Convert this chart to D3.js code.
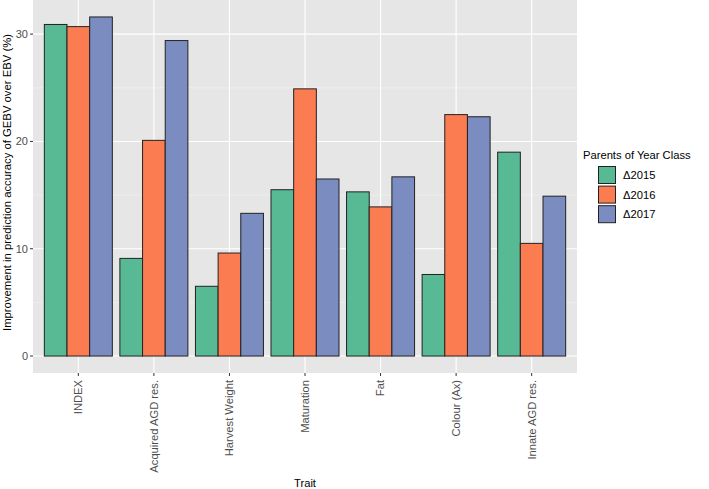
<!DOCTYPE html>
<html><head><meta charset="utf-8">
<script src="https://cdn.jsdelivr.net/npm/d3@7"></script>
<style>body{margin:0;background:#fff;} text{font-family:"Liberation Sans",Arial,sans-serif;}</style>
</head><body>
<svg id="c" width="709" height="489"></svg>
<script>
const categories = ["INDEX","Acquired AGD res.","Harvest Weight","Maturation","Fat","Colour (Ax)","Innate AGD res."];
const seriesNames = ["\u03942015","\u03942016","\u03942017"];
const v2015 = [30.9, 9.1, 6.5, 15.5, 15.3, 7.6, 19.0];
const v2016 = [30.7, 20.1, 9.6, 24.9, 13.9, 22.5, 10.5];
const v2017 = [31.6, 29.4, 13.3, 16.5, 16.7, 22.3, 14.9];
const yTicks = [0, 10, 20, 30];
const colors = ["#57ba95", "#fc7c52", "#7b8cc0"];

const series = [v2015, v2016, v2017];
const svg = d3.select("#c");
const L = 33, R = 577, T = 0, B = 373;
const maxV = d3.max(series.flat());
const y = d3.scaleLinear().domain([-0.05*maxV, maxV*1.05]).range([B, T]);
// ggplot discrete axis: categories at 1..n, range expanded by 0.6 on each side
const xc = d3.scaleLinear().domain([0.4, categories.length + 0.6]).range([L, R]);
const cx = i => xc(i + 1);
const bw = xc(1.9) - xc(1);
const xs = d3.scaleBand().domain(seriesNames).range([-bw/2, bw/2]);

svg.append("rect").attr("x", L).attr("y", T).attr("width", R-L).attr("height", B-T).attr("fill", "#e6e6e6");
const minor = [5, 15, 25];
svg.selectAll(".mn").data(minor).enter().append("line")
  .attr("x1", L).attr("x2", R).attr("y1", d=>y(d)).attr("y2", d=>y(d))
  .attr("stroke", "#f4f4f4").attr("stroke-width", 0.6);
svg.selectAll(".mj").data(yTicks).enter().append("line")
  .attr("x1", L).attr("x2", R).attr("y1", d=>y(d)).attr("y2", d=>y(d))
  .attr("stroke", "#fff").attr("stroke-width", 1.1);
svg.selectAll(".vx").data(categories).enter().append("line")
  .attr("x1", (d,i)=>cx(i)).attr("x2", (d,i)=>cx(i)).attr("y1", T).attr("y2", B)
  .attr("stroke", "#fff").attr("stroke-width", 1.1);

series.forEach((vals, s) => {
  svg.append("g").selectAll("rect").data(vals).enter().append("rect")
    .attr("x", (d,i)=>cx(i) + xs(seriesNames[s]))
    .attr("width", xs.bandwidth())
    .attr("y", d=>y(d))
    .attr("height", d=>y(0)-y(d))
    .attr("fill", colors[s])
    .attr("stroke", "#222").attr("stroke-width", 1);
});

const ya = svg.append("g");
yTicks.forEach(t => {
  ya.append("line").attr("x1", L-3).attr("x2", L).attr("y1", y(t)).attr("y2", y(t)).attr("stroke", "#333").attr("stroke-width", 1);
  ya.append("text").attr("x", L-5).attr("y", y(t)).attr("dy", "0.35em").attr("text-anchor", "end")
    .attr("font-size", 11).attr("fill", "#4d4d4d").text(t);
});
categories.forEach((c, i) => {
  svg.append("line").attr("x1", cx(i)).attr("x2", cx(i)).attr("y1", B).attr("y2", B+3).attr("stroke", "#333");
  svg.append("text").attr("transform", `translate(${cx(i)},${B+7}) rotate(-90)`)
    .attr("text-anchor", "end").attr("dy", "0.35em").attr("font-size", 11.2).attr("fill", "#4d4d4d").text(c);
});
svg.append("text").attr("x", (L+R)/2).attr("y", 487).attr("text-anchor", "middle").attr("font-size", 11.2).attr("fill", "#000").text("Trait");
svg.append("text").attr("transform", `translate(11,${(T+B)/2 - 4}) rotate(-90)`).attr("text-anchor", "middle")
  .attr("font-size", 11.3).attr("fill", "#000").text("Improvement in prediction accuracy of GEBV over EBV (%)");

const lg = svg.append("g");
lg.append("text").attr("x", 583).attr("y", 159).attr("font-size", 11.2).attr("fill", "#000").text("Parents of Year Class");
seriesNames.forEach((n, i) => {
  const ky = 166.5 + i * 19.6;
  lg.append("rect").attr("x", 598.5).attr("y", ky).attr("width", 17).attr("height", 17)
    .attr("fill", colors[i]).attr("stroke", "#222").attr("stroke-width", 1);
  lg.append("text").attr("x", 623).attr("y", ky + 8.5).attr("dy", "0.35em").attr("font-size", 11.2).attr("fill", "#000").text(n);
});
</script>
</body></html>
